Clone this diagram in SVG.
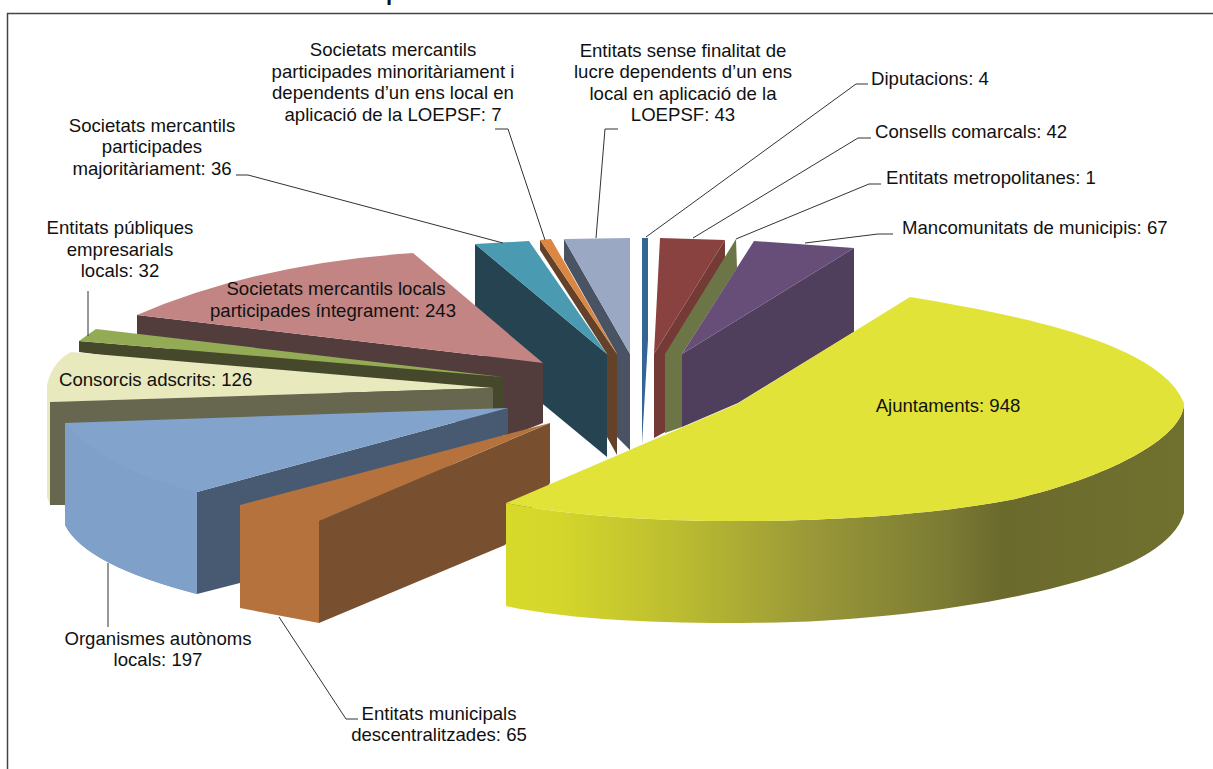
<svg xmlns="http://www.w3.org/2000/svg" width="1213" height="769" viewBox="0 0 1213 769">
<style>
text{font-family:"Liberation Sans",Arial,sans-serif;font-size:18.6px;fill:#111}
.m{text-anchor:middle}
.l{fill:none;stroke:#333;stroke-width:1}
</style>
<defs>
<linearGradient id="yg" gradientUnits="userSpaceOnUse" x1="506" y1="0" x2="1184" y2="0">
<stop offset="0" stop-color="#d8da2a"/><stop offset=".08" stop-color="#d4d62b"/><stop offset=".25" stop-color="#bcbd30"/><stop offset=".45" stop-color="#9a9838"/><stop offset=".65" stop-color="#7b7b34"/><stop offset=".73" stop-color="#6b6a2d"/><stop offset="1" stop-color="#70712f"/>
</linearGradient>
</defs>
<rect width="1213" height="769" fill="#fff"/>
<text x="386" y="0" style="font-size:22px;font-weight:bold">p</text>
<path d="M7.500 769V13.500H1213" fill="none" stroke="#444" stroke-width="1.500"/>
<g id="chart">
<g id="teal"><path fill="#264352" d="M475 244L607 354V457L475 348Z"/><path fill="#4a9bb2" d="M475 244L529 241L607 354Z"/></g>
<g id="orange"><path fill="#64422a" d="M540 240L617 354V455L607 437V354L540 250Z"/><path fill="#db8641" d="M540 240L551 239L617 354Z"/></g>
<g id="greyblue"><path fill="#4a5364" d="M564 239L630 354V450L617 437V354L564 260Z"/><path fill="#9aa8c4" d="M564 239L630 238V354Z"/></g>
<g id="diputacions"><path fill="#356595" d="M642 238H648V340L642 444Z"/></g>
<g id="red"><path fill="#733a36" d="M725 240V262L665 360V432L654 438V354Z"/><path fill="#8a4240" d="M660 238L725 240L654 354Z"/></g>
<g id="olive"><path fill="#6b7545" d="M736 239L737 268L682 354V427L665 433V354Z"/></g>
<g id="purple"><path fill="#4f3e5c" d="M854 248V332L738 403L682 427V354Z"/><path fill="#674e79" d="M754 241L854 248L682 354Z"/></g>
<g id="pink"><path fill="#533c3c" d="M137 315L543 363V423L510 436L137 340Z"/><path fill="#c38584" d="M137 315Q255 264 413 253L543 363Z"/></g>
<g id="green"><path fill="#45482b" d="M79 341L503 377V408L79 352Z"/><path fill="#93ab55" d="M79 341L96 329L503 377Z"/></g>
<g id="cream"><path fill="#e8e9bc" d="M71 352L493 388L50 402V505L47 497V385Q52 362 71 352Z"/><path fill="#67674f" d="M50 402L493 388V412L65 505H50Z"/></g>
<g id="blue"><path fill="#475a72" d="M197 492L508 408V433L240 583L197 594Z"/><path fill="#82a3cb" d="M65 423L508 408L197 492V594Q85 565 65 525Z"/><path fill="#7fa0c9" d="M65 423Q105 470 197 492V594Q85 565 65 525Z"/></g>
<g id="copper"><path fill="#784f2f" d="M319 521L550 423V483L505 545L319 623Z"/><path fill="#b5723c" d="M240 505L550 423L319 521V623L240 608Z"/></g>
<g id="ajuntaments">
<path fill="url(#yg)" d="M506 503C640 530 880 525 1010 500C1100 480 1184 440 1184 403V513C1175 545 1130 565 1099 575C1000 607 860 623 744 623C660 623 570 620 506 606Z"/>
<path fill="#e2e338" d="M506 503L737 404L910 297C1000 312 1160 340 1184 403C1184 440 1100 480 1010 500C880 525 640 530 506 503Z"/>
</g>
</g>
<g id="connectors">
<path class="l" d="M236 175H248L503 243"/>
<path class="l" d="M495 129H508L545 240"/>
<path class="l" d="M618 129H605L596 238"/>
<path class="l" d="M868 84H856L646 237"/>
<path class="l" d="M871 138H858L693 238"/>
<path class="l" d="M881 184H869L736 239"/>
<path class="l" d="M893 234H878L805 243"/>
<path class="l" d="M88 291V336"/>
<path class="l" d="M108 563V627"/>
<path class="l" d="M279 617L346 719H358"/>
</g>
<g id="labels">
<text class="m" x="393" y="56">Societats mercantils</text>
<text class="m" x="393" y="78">participades minoritàriament i</text>
<text class="m" x="393" y="99">dependents d’un ens local en</text>
<text class="m" x="393" y="121">aplicació de la LOEPSF: 7</text>
<text class="m" x="683" y="57">Entitats sense finalitat de</text>
<text class="m" x="683" y="78">lucre dependents d’un ens</text>
<text class="m" x="683" y="100">local en aplicació de la</text>
<text class="m" x="683" y="121">LOEPSF: 43</text>
<text x="871" y="85">Diputacions: 4</text>
<text x="875" y="138">Consells comarcals: 42</text>
<text x="886" y="184">Entitats metropolitanes: 1</text>
<text x="902" y="234">Mancomunitats de municipis: 67</text>
<text class="m" x="948" y="412">Ajuntaments: 948</text>
<text class="m" x="152" y="132">Societats mercantils</text>
<text class="m" x="152" y="153">participades</text>
<text class="m" x="152" y="175">majoritàriament: 36</text>
<text class="m" x="120" y="234">Entitats públiques</text>
<text class="m" x="120" y="256">empresarials</text>
<text class="m" x="120" y="277">locals: 32</text>
<text class="m" x="336" y="295">Societats mercantils locals</text>
<text class="m" x="333" y="317">participades íntegrament: 243</text>
<text x="59" y="386">Consorcis adscrits: 126</text>
<text class="m" x="158" y="645">Organismes autònoms</text>
<text class="m" x="158" y="666">locals: 197</text>
<text class="m" x="439" y="720">Entitats municipals</text>
<text class="m" x="439" y="741">descentralitzades: 65</text>
</g>
</svg>
